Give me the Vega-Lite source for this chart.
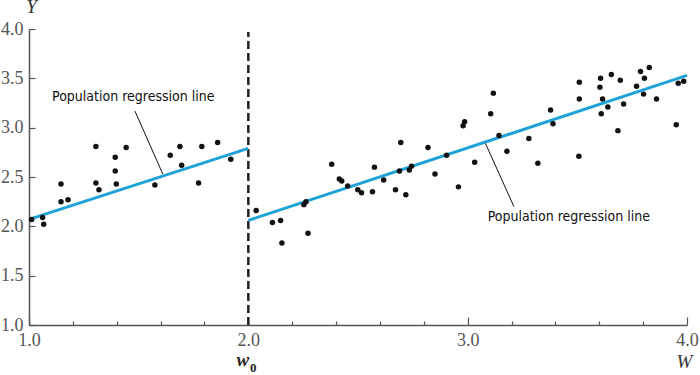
{
  "$schema": "https://vega.github.io/schema/vega-lite/v6.json",
  "width": 658,
  "height": 296,
  "autosize": {"type": "none"},
  "padding": {"left": 29, "top": 29, "right": 13, "bottom": 50},
  "background": "white",
  "config": {"view": {"stroke": null}},
  "datasets": {
    "pts": [
      {"w":1.012,"y":2.07},{"w":1.062,"y":2.09},{"w":1.067,"y":2.02},{"w":1.146,"y":2.43},{"w":1.146,"y":2.25},
      {"w":1.178,"y":2.27},{"w":1.305,"y":2.81},{"w":1.305,"y":2.44},{"w":1.319,"y":2.37},{"w":1.393,"y":2.70},
      {"w":1.393,"y":2.56},{"w":1.398,"y":2.43},{"w":1.443,"y":2.80},{"w":1.574,"y":2.42},{"w":1.644,"y":2.72},
      {"w":1.688,"y":2.81},{"w":1.696,"y":2.62},{"w":1.773,"y":2.44},{"w":1.788,"y":2.81},{"w":1.860,"y":2.85},
      {"w":1.920,"y":2.68},
      {"w":2.036,"y":2.16},{"w":2.110,"y":2.04},{"w":2.147,"y":2.06},{"w":2.153,"y":1.83},{"w":2.253,"y":2.22},
      {"w":2.263,"y":2.25},{"w":2.272,"y":1.93},{"w":2.380,"y":2.63},{"w":2.415,"y":2.48},{"w":2.426,"y":2.46},
      {"w":2.453,"y":2.41},{"w":2.499,"y":2.37},{"w":2.516,"y":2.34},{"w":2.566,"y":2.35},{"w":2.575,"y":2.60},
      {"w":2.617,"y":2.47},{"w":2.671,"y":2.37},{"w":2.689,"y":2.56},{"w":2.695,"y":2.85},{"w":2.718,"y":2.32},
      {"w":2.734,"y":2.57},{"w":2.744,"y":2.61},{"w":2.819,"y":2.80},{"w":2.851,"y":2.53},{"w":2.904,"y":2.72},
      {"w":2.958,"y":2.40},{"w":2.979,"y":3.02},{"w":2.986,"y":3.06},{"w":3.032,"y":2.65},{"w":3.105,"y":3.14},
      {"w":3.117,"y":3.35},{"w":3.143,"y":2.92},{"w":3.179,"y":2.76},{"w":3.279,"y":2.89},{"w":3.320,"y":2.64},
      {"w":3.378,"y":3.18},{"w":3.389,"y":3.04},{"w":3.507,"y":2.71},{"w":3.509,"y":3.46},{"w":3.509,"y":3.29},
      {"w":3.603,"y":3.41},{"w":3.606,"y":3.50},{"w":3.609,"y":3.14},{"w":3.615,"y":3.29},{"w":3.639,"y":3.21},
      {"w":3.655,"y":3.54},{"w":3.685,"y":2.97},{"w":3.696,"y":3.48},{"w":3.711,"y":3.24},{"w":3.770,"y":3.42},
      {"w":3.788,"y":3.57},{"w":3.802,"y":3.34},{"w":3.806,"y":3.50},{"w":3.828,"y":3.61},{"w":3.861,"y":3.29},
      {"w":3.951,"y":3.03},{"w":3.960,"y":3.45},{"w":3.985,"y":3.47}
    ],
    "lines": [
      {"seg":"a","w":1.0,"y":2.07},{"seg":"a","w":2.0,"y":2.79},
      {"seg":"b","w":2.0,"y":2.06},{"seg":"b","w":4.0,"y":3.53}
    ],
    "leaders": [
      {"w":1.483,"y":3.168,"w2":1.61,"y2":2.53},
      {"w":3.081,"y":2.841,"w2":3.211,"y2":2.199}
    ],
    "labels": [
      {"w":1.105,"y":3.31,"t":"Population regression line"},
      {"w":3.091,"y":2.094,"t":"Population regression line"}
    ]
  },
  "layer": [
    {
      "data": {"values": [{"w":2.0,"y":1.0,"y2":3.97}]},
      "mark": {"type":"rule","color":"#222","strokeWidth":2.5,"strokeDash":[8,4]},
      "encoding": {
        "x": {"field":"w","type":"quantitative","scale":{"domain":[1,4],"nice":false,"zero":false},
          "axis": {
            "values":[1,1.1,1.2,1.3,1.4,1.5,1.6,1.7,1.8,1.9,2,2.1,2.2,2.3,2.4,2.5,2.6,2.7,2.8,2.9,3,3.1,3.2,3.3,3.4,3.5,3.6,3.7,3.8,3.9,4],
            "labelExpr":"abs(datum.value*2 - round(datum.value*2)) < 0.001 ? format(datum.value, '.1f') : ''",
            "grid":false,
            "domainColor":"#555","domainWidth":1.5,
            "tickColor":"#555","tickWidth":1.2,
            "tickSize":{"condition":{"test":"abs(datum.value*2 - round(datum.value*2)) < 0.001","value":-8},"value":-4},
            "labelFont":"Liberation Serif","labelFontSize":18,"labelColor":"#555","labelPadding":14,
            "labelFlush":false,"labelOverlap":false,
            "title":"W","titleFont":"Liberation Serif","titleFontStyle":"italic","titleFontWeight":"normal",
            "titleFontSize":19,"titleColor":"#333","titleX":655,"titleY":42,"titleAlign":"center","titleBaseline":"alphabetic"
          }},
        "y": {"field":"y","type":"quantitative","scale":{"domain":[1,4],"nice":false,"zero":false},
          "axis": {
            "values":[1,1.25,1.5,1.75,2,2.25,2.5,2.75,3,3.25,3.5,3.75,4],
            "labelExpr":"abs(datum.value*2 - round(datum.value*2)) < 0.001 ? format(datum.value, '.1f') : ''",
            "grid":false,
            "domainColor":"#555","domainWidth":1.5,
            "tickColor":"#555","tickWidth":1.2,
            "tickSize":{"condition":{"test":"abs(datum.value*2 - round(datum.value*2)) < 0.001","value":-6},"value":-3.5},
            "labelFont":"Liberation Serif","labelFontSize":18,"labelColor":"#555","labelPadding":12,
            "labelFlush":false,"labelOverlap":false,
            "title":"Y","titleFont":"Liberation Serif","titleFontStyle":"italic","titleFontWeight":"normal",
            "titleFontSize":19,"titleColor":"#333","titleAngle":0,"titleX":2,"titleY":-17,"titleAlign":"center","titleBaseline":"alphabetic"
          }},
        "y2": {"field":"y2"}
      }
    },
    {
      "data": {"name":"lines"},
      "mark": {"type":"line","color":"#1fa3d6","strokeWidth":3},
      "encoding": {
        "x": {"field":"w","type":"quantitative"},
        "y": {"field":"y","type":"quantitative"},
        "detail": {"field":"seg"}
      }
    },
    {
      "data": {"name":"pts"},
      "mark": {"type":"circle","color":"#111","opacity":1,"size":30},
      "encoding": {
        "x": {"field":"w","type":"quantitative"},
        "y": {"field":"y","type":"quantitative"}
      }
    },
    {
      "data": {"name":"leaders"},
      "mark": {"type":"rule","color":"#111","strokeWidth":1},
      "encoding": {
        "x": {"field":"w","type":"quantitative"},
        "y": {"field":"y","type":"quantitative"},
        "x2": {"field":"w2"},
        "y2": {"field":"y2"}
      }
    },
    {
      "data": {"name":"labels"},
      "mark": {"type":"text","align":"left","baseline":"middle","font":"DejaVu Sans Condensed, DejaVu Sans","fontSize":14,"fontStretch":"condensed","color":"#111"},
      "encoding": {
        "x": {"field":"w","type":"quantitative"},
        "y": {"field":"y","type":"quantitative"},
        "text": {"field":"t"}
      }
    },
    {
      "data": {"values":[{"w":1.975,"y":0.585,"t":"w"}]},
      "mark": {"type":"text","align":"center","baseline":"alphabetic","font":"Liberation Serif","fontStyle":"italic","fontWeight":"bold","fontSize":19,"color":"#222"},
      "encoding": {
        "x": {"field":"w","type":"quantitative"},
        "y": {"field":"y","type":"quantitative"},
        "text": {"field":"t"}
      }
    },
    {
      "data": {"values":[{"w":2.022,"y":0.525,"t":"0"}]},
      "mark": {"type":"text","align":"center","baseline":"alphabetic","font":"Liberation Serif","fontWeight":"bold","fontSize":13,"color":"#222"},
      "encoding": {
        "x": {"field":"w","type":"quantitative"},
        "y": {"field":"y","type":"quantitative"},
        "text": {"field":"t"}
      }
    }
  ]
}
